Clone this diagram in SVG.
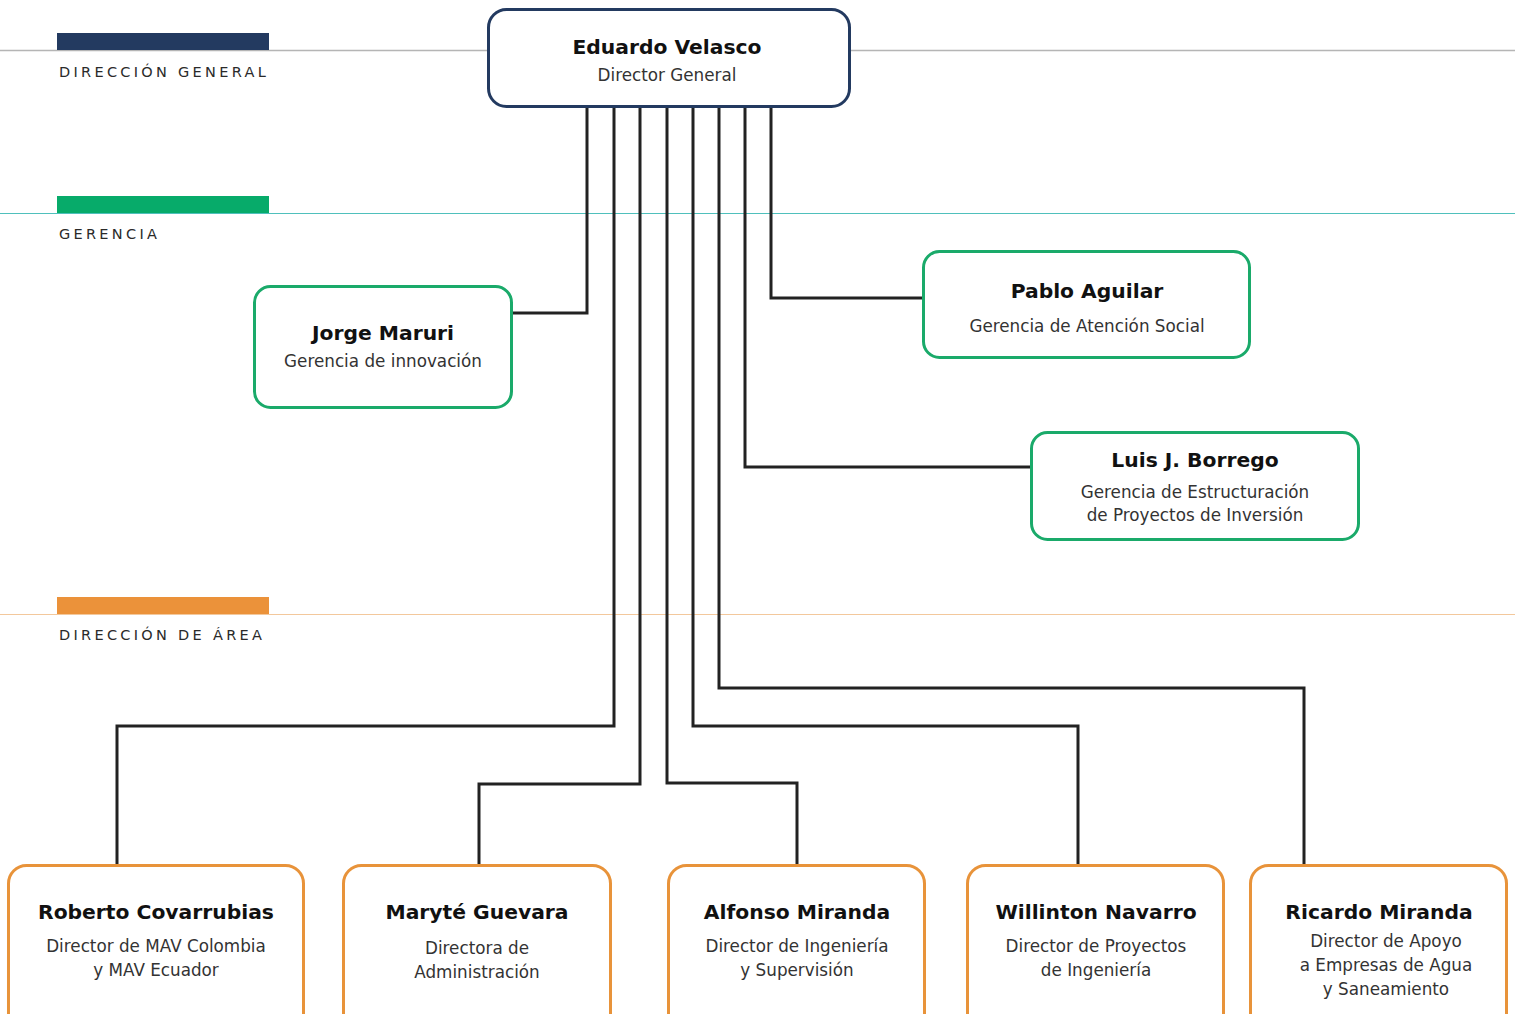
<svg xmlns="http://www.w3.org/2000/svg" width="1515" height="1014" viewBox="0 0 1515 1014">
<style>
.lvl{font-family:"DejaVu Sans","Liberation Sans",sans-serif;font-size:14.5px;letter-spacing:3.3px;fill:#2a2a2a}
.nm{font-family:"DejaVu Sans","Liberation Sans",sans-serif;font-weight:bold;font-size:20.3px;fill:#111;text-anchor:middle}
.sb{font-family:"DejaVu Sans","Liberation Sans",sans-serif;font-size:16.8px;fill:#333;text-anchor:middle}
.box{fill:#fff;stroke-width:3}
.nav{stroke:#233a60}
.grn{stroke:#1aaa6a}
.org{stroke:#e8933a}
.con{fill:none;stroke:#222;stroke-width:3}
</style>
<rect width="1515" height="1014" fill="#fff"/>
<g id="levels">
<line x1="0" y1="50.5" x2="1515" y2="50.5" stroke="#b5b5b5" stroke-width="1.5"/>
<rect x="57" y="33" width="212" height="17" fill="#233a60"/>
<text class="lvl" x="59" y="77">DIRECCIÓN GENERAL</text>
<line x1="0" y1="213.5" x2="1515" y2="213.5" stroke="#4fc0bc" stroke-width="1.2"/>
<rect x="57" y="196" width="212" height="17" fill="#07ab6a"/>
<text class="lvl" x="59" y="239">GERENCIA</text>
<line x1="0" y1="614.5" x2="1515" y2="614.5" stroke="#f3c89c" stroke-width="1.2"/>
<rect x="57" y="597" width="212" height="17" fill="#eb923a"/>
<text class="lvl" x="59" y="640">DIRECCIÓN DE ÁREA</text>
</g>
<g id="connectors">
<polyline class="con" points="587,107 587,313 512,313"/>
<polyline class="con" points="614,107 614,726 117,726 117,865"/>
<polyline class="con" points="640,107 640,784 479,784 479,865"/>
<polyline class="con" points="667,107 667,783 797,783 797,865"/>
<polyline class="con" points="693,107 693,726 1078,726 1078,865"/>
<polyline class="con" points="719,107 719,688 1304,688 1304,865"/>
<polyline class="con" points="745,107 745,467 1031,467"/>
<polyline class="con" points="771,107 771,298 923,298"/>
</g>
<g id="eduardo">
<rect class="box nav" x="488.5" y="9.5" width="361" height="97" rx="18"/>
<text class="nm" x="667" y="54">Eduardo Velasco</text>
<text class="sb" x="667" y="81">Director General</text>
</g>
<g id="jorge">
<rect class="box grn" x="254.5" y="286.5" width="257" height="121" rx="16"/>
<text class="nm" x="383" y="340">Jorge Maruri</text>
<text class="sb" x="383" y="367">Gerencia de innovación</text>
</g>
<g id="pablo">
<rect class="box grn" x="923.5" y="251.5" width="326" height="106" rx="16"/>
<text class="nm" x="1087" y="298">Pablo Aguilar</text>
<text class="sb" x="1087" y="332">Gerencia de Atención Social</text>
</g>
<g id="luis">
<rect class="box grn" x="1031.5" y="432.5" width="327" height="107" rx="16"/>
<text class="nm" x="1195" y="467">Luis J. Borrego</text>
<text class="sb" x="1195" y="498">Gerencia de Estructuración</text>
<text class="sb" x="1195" y="521">de Proyectos de Inversión</text>
</g>
<g id="roberto">
<rect class="box org" x="8.5" y="865.5" width="295" height="170" rx="18"/>
<text class="nm" x="156" y="919">Roberto Covarrubias</text>
<text class="sb" x="156" y="952">Director de MAV Colombia</text>
<text class="sb" x="156" y="976">y MAV Ecuador</text>
</g>
<g id="maryte">
<rect class="box org" x="343.5" y="865.5" width="267" height="170" rx="18"/>
<text class="nm" x="477" y="919">Maryté Guevara</text>
<text class="sb" x="477" y="954">Directora de</text>
<text class="sb" x="477" y="978">Administración</text>
</g>
<g id="alfonso">
<rect class="box org" x="668.5" y="865.5" width="256" height="170" rx="18"/>
<text class="nm" x="797" y="919">Alfonso Miranda</text>
<text class="sb" x="797" y="952">Director de Ingeniería</text>
<text class="sb" x="797" y="976">y Supervisión</text>
</g>
<g id="willinton">
<rect class="box org" x="967.5" y="865.5" width="256" height="170" rx="18"/>
<text class="nm" x="1096" y="919">Willinton Navarro</text>
<text class="sb" x="1096" y="952">Director de Proyectos</text>
<text class="sb" x="1096" y="976">de Ingeniería</text>
</g>
<g id="ricardo">
<rect class="box org" x="1250.5" y="865.5" width="256" height="170" rx="18"/>
<text class="nm" x="1379" y="919">Ricardo Miranda</text>
<text class="sb" x="1386" y="947">Director de Apoyo</text>
<text class="sb" x="1386" y="971">a Empresas de Agua</text>
<text class="sb" x="1386" y="995">y Saneamiento</text>
</g>
</svg>
